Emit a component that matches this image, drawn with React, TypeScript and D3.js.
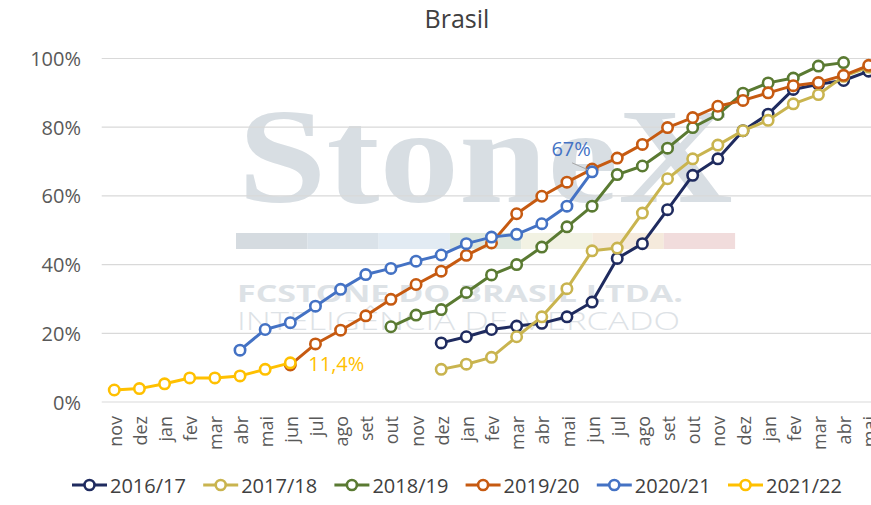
import React, { useEffect, useRef } from "react";
import * as d3 from "d3";

// month categories along the x axis (nov of year 1 through mai of year 3)
const monthLabels = [
  "nov", "dez", "jan", "fev", "mar", "abr", "mai", "jun", "jul", "ago", "set", "out",
  "nov", "dez", "jan", "fev", "mar", "abr", "mai", "jun", "jul", "ago", "set", "out",
  "nov", "dez", "jan", "fev", "mar", "abr", "mai",
];
const yTicks = [0, 20, 40, 60, 80, 100];

const seriesNames = ["2016/17", "2017/18", "2018/19", "2019/20", "2020/21", "2021/22"];
const seriesColors = ["#1f2b5f", "#c9b44f", "#5a7a32", "#c65a11", "#4472c4", "#ffc000"];
// index of the first month each season starts at
const seriesStart = [13, 13, 11, 7, 5, 0];

const s201617 = [17.2, 19.0, 21.1, 22.1, 22.9, 24.8, 29.1, 41.8, 46.1, 56.0, 66.0, 70.8, 79.0, 83.8, 91.0, 92.5, 93.6, 96.3];
const s201718 = [9.5, 11.0, 13.0, 19.0, 24.8, 33.0, 44.0, 44.8, 55.0, 65.0, 70.8, 74.8, 79.0, 82.0, 86.8, 89.5, 94.8, 97.5];
const s201819 = [21.9, 25.3, 26.9, 31.9, 37.0, 40.0, 45.1, 51.0, 57.0, 66.2, 68.7, 73.9, 79.9, 83.7, 89.9, 92.9, 94.3, 97.8, 98.8];
const s201920 = [10.8, 16.9, 20.9, 25.1, 29.9, 34.2, 38.1, 42.7, 46.3, 54.8, 59.9, 64.0, 67.8, 71.0, 75.0, 79.9, 82.8, 86.1, 87.8, 90.0, 92.1, 93.0, 95.1, 98.0];
const s202021 = [15.1, 21.1, 23.1, 27.9, 32.8, 37.1, 38.9, 41.0, 42.8, 46.1, 48.0, 48.8, 51.9, 57.0, 67.0];
const s202122 = [3.5, 3.9, 5.3, 7.0, 7.0, 7.6, 9.5, 11.4];

const seriesValues = [s201617, s201718, s201819, s201920, s202021, s202122];

const wmColors = ["#d5dbe0", "#dae2e9", "#e2ebf3", "#dde7df", "#f2f2e3", "#f5eadc", "#f1dcdc"];

const FONT = "'Open Sans', sans-serif";

const App = () => {
  const svgRef = useRef<SVGSVGElement>(null);

  useEffect(() => {
    const w = 871;
    const h = 505;
    const svg = d3.select(svgRef.current).attr("width", w).attr("height", h);
    svg.selectAll("*").remove();

    const x = d3
      .scaleBand<number>()
      .domain(d3.range(monthLabels.length))
      .range([101.7, 881.3]);
    const cx = (i: number) => (x(i) as number) + x.bandwidth() / 2;
    const y = d3.scaleLinear().domain([0, 100]).range([402, 58.5]);

    // watermark
    const wm = svg.append("g");
    wm.append("text")
      .attr("x", 238)
      .attr("y", 202)
      .attr("textLength", 495)
      .attr("lengthAdjust", "spacingAndGlyphs")
      .style("font-family", "'Liberation Serif', serif")
      .style("font-weight", 700)
      .style("font-size", "136px")
      .attr("fill", "#d8dee3")
      .text("StoneX");
    wm.selectAll("rect")
      .data(wmColors)
      .join("rect")
      .attr("x", (d, i) => 236 + i * 71.3)
      .attr("y", 233)
      .attr("width", 71.3)
      .attr("height", 16)
      .attr("fill", (d) => d);
    wm.append("text")
      .attr("x", 237)
      .attr("y", 302)
      .attr("textLength", 446)
      .attr("lengthAdjust", "spacingAndGlyphs")
      .style("font-family", FONT)
      .style("font-weight", 700)
      .style("font-size", "24px")
      .attr("fill", "#dde2e6")
      .text("FCSTONE DO BRASIL LTDA.");
    wm.append("text")
      .attr("x", 237)
      .attr("y", 330)
      .attr("textLength", 443)
      .attr("lengthAdjust", "spacingAndGlyphs")
      .style("font-family", FONT)
      .style("font-weight", 300)
      .style("font-size", "25px")
      .attr("fill", "#dde2e6")
      .text("INTELIGÊNCIA DE MERCADO");

    // title
    svg.append("text")
      .attr("x", 457)
      .attr("y", 28)
      .attr("text-anchor", "middle")
      .style("font-family", FONT)
      .style("font-size", "25px")
      .attr("fill", "#404040")
      .text("Brasil");

    // gridlines + y labels
    const grid = svg.append("g");
    yTicks.forEach((t) => {
      grid.append("line")
        .attr("x1", 101.7)
        .attr("x2", w)
        .attr("y1", y(t))
        .attr("y2", y(t))
        .attr("stroke", "#d9d9d9")
        .attr("stroke-width", 1.2);
      grid.append("text")
        .attr("x", 81)
        .attr("y", y(t) + 7.5)
        .attr("text-anchor", "end")
        .style("font-family", FONT)
        .style("font-size", "20px")
        .attr("fill", "#595959")
        .text(`${t}%`);
    });

    // x labels
    svg.append("g")
      .selectAll("text")
      .data(monthLabels)
      .join("text")
      .attr("transform", (d, i) => `translate(${cx(i)},416) rotate(-90)`)
      .attr("dy", "0.42em")
      .attr("text-anchor", "end")
      .style("font-family", FONT)
      .style("font-size", "18px")
      .attr("fill", "#595959")
      .text((d) => d);

    // series: line then markers, later seasons on top
    seriesValues.forEach((vals, si) => {
      const start = seriesStart[si];
      const color = seriesColors[si];
      const g = svg.append("g");
      const path = d3
        .line<number>()
        .x((d, i) => cx(start + i))
        .y((d) => y(d));
      g.append("path")
        .attr("d", path(vals))
        .attr("fill", "none")
        .attr("stroke", color)
        .attr("stroke-width", 3)
        .attr("stroke-linejoin", "round");
      g.selectAll("circle")
        .data(vals)
        .join("circle")
        .attr("cx", (d, i) => cx(start + i))
        .attr("cy", (d) => y(d))
        .attr("r", 5.2)
        .attr("fill", "#fff")
        .attr("stroke", color)
        .attr("stroke-width", 2.6);
    });

    // data labels
    const blueLast = s202021.length - 1;
    const bx = cx(seriesStart[4] + blueLast);
    const by = y(s202021[blueLast]);
    svg.append("line")
      .attr("x1", bx - 20)
      .attr("y1", by - 9)
      .attr("x2", bx - 4)
      .attr("y2", by - 2)
      .attr("stroke", "#a6a6a6")
      .attr("stroke-width", 1);
    svg.append("text")
      .attr("x", bx - 21)
      .attr("y", by - 16)
      .attr("text-anchor", "middle")
      .style("font-family", FONT)
      .style("font-size", "20px")
      .attr("fill", seriesColors[4])
      .text(`${s202021[blueLast]}%`);

    const yLast = s202122.length - 1;
    svg.append("text")
      .attr("x", cx(seriesStart[5] + yLast) + 18)
      .attr("y", y(s202122[yLast]) + 8)
      .style("font-family", FONT)
      .style("font-size", "20px")
      .attr("fill", seriesColors[5])
      .text(`${String(s202122[yLast]).replace(".", ",")}%`);

    // legend
    const legend = svg.append("g");
    seriesNames.forEach((name, i) => {
      const gx = 72 + i * 131.2;
      const ly = 485;
      legend.append("line")
        .attr("x1", gx)
        .attr("x2", gx + 35)
        .attr("y1", ly)
        .attr("y2", ly)
        .attr("stroke", seriesColors[i])
        .attr("stroke-width", 3);
      legend.append("circle")
        .attr("cx", gx + 17.5)
        .attr("cy", ly)
        .attr("r", 5)
        .attr("fill", "#fff")
        .attr("stroke", seriesColors[i])
        .attr("stroke-width", 2.6);
      legend.append("text")
        .attr("x", gx + 38)
        .attr("y", ly + 7.5)
        .style("font-family", FONT)
        .style("font-size", "20px")
        .attr("fill", "#404040")
        .text(name);
    });
  }, []);

  return (
    <div style={{ position: "absolute", left: 0, top: 0 }}>
      <svg ref={svgRef} style={{ display: "block" }}></svg>
    </div>
  );
};

export default App;
